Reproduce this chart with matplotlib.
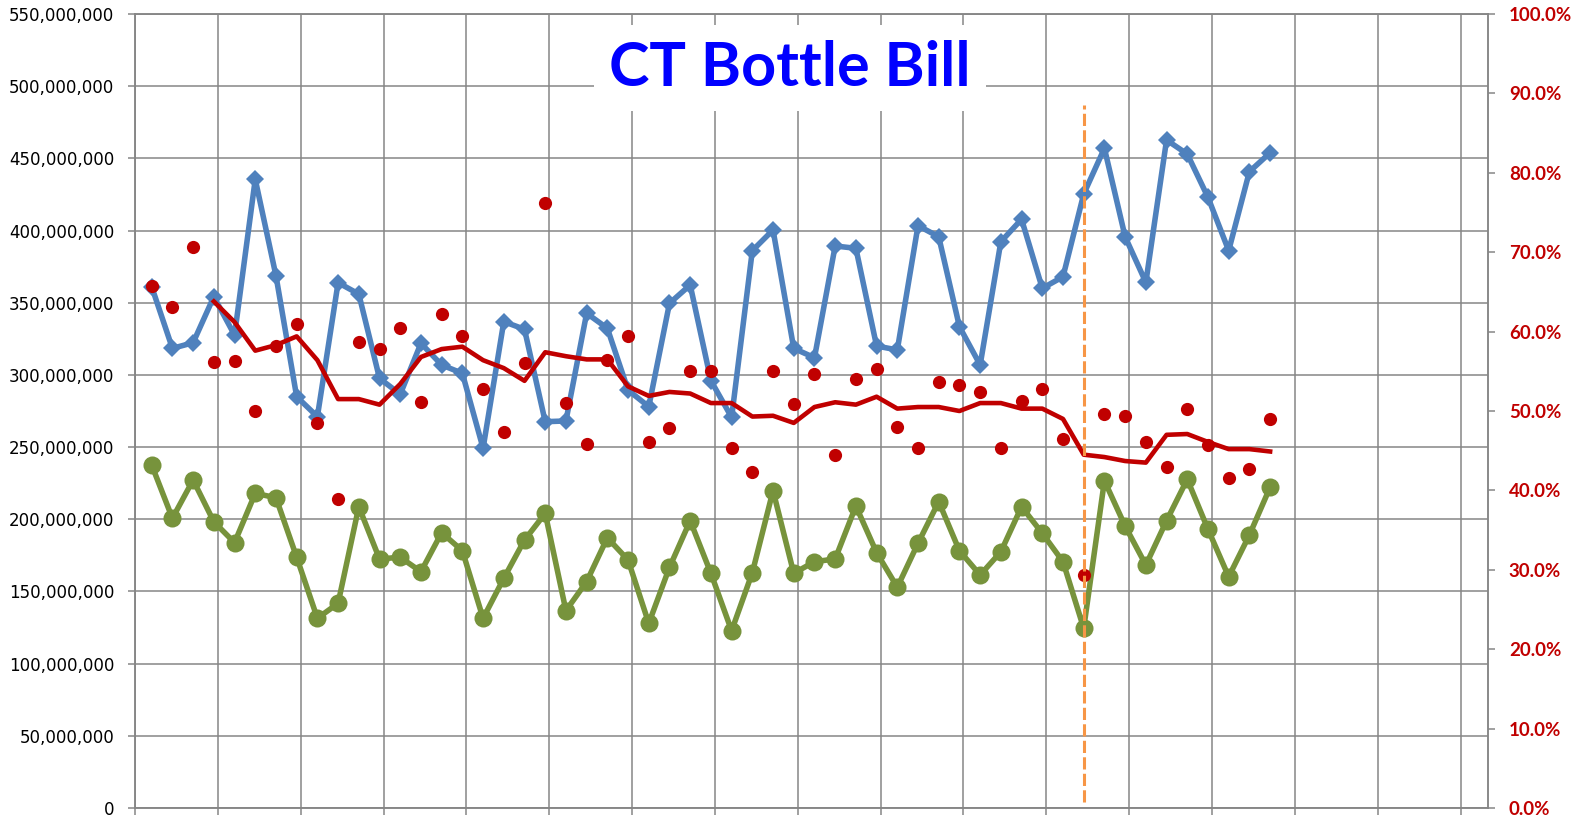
import matplotlib
matplotlib.use("Agg")
import matplotlib.pyplot as plt
import numpy as np
from matplotlib.ticker import FuncFormatter, PercentFormatter

# quarterly periods (index positions on the x axis)
periods = np.arange(55)

# blue series (left axis)
blue = [361.1, 318.4, 322.3, 354.2, 327.6, 435.5, 368.7, 284.9, 271.1, 363.9,
        356.0, 297.6, 286.6, 321.9, 306.9, 301.1, 249.2, 336.9, 331.6, 267.6,
        268.1, 342.7, 332.3, 289.5, 278.0, 349.6, 362.3, 296.0, 270.6, 386.1,
        400.4, 318.4, 311.9, 389.3, 387.7, 320.0, 317.3, 403.4, 395.7, 333.4,
        306.9, 392.3, 407.8, 360.0, 368.0, 425.3, 457.0, 395.7, 364.1, 462.7,
        453.0, 423.0, 386.1, 440.8, 453.9]

# green series (left axis)
green = [237.6, 200.7, 227.2, 198.3, 183.8, 218.0, 214.9, 173.7, 131.4, 141.8,
         208.7, 172.5, 173.7, 163.7, 190.7, 178.2, 131.4, 159.1, 185.6, 204.1,
         136.7, 156.8, 187.2, 171.8, 127.9, 166.7, 199.0, 162.6, 122.8, 163.0,
         219.8, 162.6, 170.6, 172.5, 209.2, 176.9, 152.9, 183.4, 212.2, 178.2,
         161.4, 177.5, 208.7, 190.3, 170.6, 124.5, 226.7, 195.3, 168.3, 199.0,
         227.7, 193.1, 160.2, 189.1, 222.2]

# redemption rate dots (right axis, %)
rate = [65.7, 63.1, 70.6, 56.2, 56.3, 50.0, 58.2, 61.0, 48.5, 38.9,
        58.7, 57.8, 60.5, 51.1, 62.2, 59.4, 52.8, 47.3, 56.1, 76.2,
        51.0, 45.8, 56.4, 59.4, 46.1, 47.8, 55.0, 55.0, 45.3, 42.3,
        55.0, 50.9, 54.6, 44.4, 54.0, 55.3, 48.0, 45.4, 53.6, 53.3,
        52.4, 45.4, 51.2, 52.8, 46.5, 29.3, 49.6, 49.4, 46.1, 42.9,
        50.3, 45.7, 41.5, 42.7, 49.0]

# 4-period moving average line (right axis, %), starts at the 4th period
rate_avg = [63.8, 61.2, 57.6, 58.3, 59.4, 56.4, 51.5, 51.5, 50.8, 53.4,
            56.8, 57.8, 58.1, 56.4, 55.4, 53.8, 57.4, 56.9, 56.5, 56.5,
            53.1, 51.9, 52.4, 52.2, 51.0, 51.0, 49.3, 49.4, 48.5, 50.5,
            51.1, 50.8, 51.8, 50.3, 50.5, 50.5, 50.0, 51.0, 51.0, 50.3,
            50.3, 49.0, 44.5, 44.2, 43.7, 43.5, 47.0, 47.1, 46.1, 45.2,
            45.2, 44.9]

marker_period = 45

grid_c = "#868686"

fig = plt.figure(figsize=(15.75, 8.17), dpi=100)
ax = fig.add_axes([135 / 1575, 1 - 808 / 817, (1488 - 135) / 1575, (808 - 14) / 817])
ax2 = ax.twinx()

x0 = -0.806
ax.set_xlim(x0, 64.52)
ax.set_ylim(0, 550e6)
ax2.set_ylim(0, 1.0)

ax.set_yticks(np.arange(0, 550e6 + 1, 50e6))
ax.yaxis.set_major_formatter(FuncFormatter(lambda v, p: f"{v:,.0f}"))
ax.set_xticks(x0 + 4 * np.arange(17))
ax.set_xticklabels([])
ax.grid(True, color=grid_c, linewidth=1.1)
ax.set_axisbelow(True)

ax.tick_params(axis="y", length=5, width=1.1, color=grid_c, pad=10,
               labelsize=12, labelcolor="black")
ax.tick_params(axis="x", length=5, width=1.1, color=grid_c)

ax2.set_yticks(np.arange(0, 1.01, 0.1))
ax2.yaxis.set_major_formatter(PercentFormatter(1.0, decimals=1))
ax2.tick_params(axis="y", length=5, width=1.1, color=grid_c, pad=10)
for lab in ax2.get_yticklabels():
    lab.set_fontfamily("Lato")
    lab.set_fontweight("bold")
    lab.set_fontsize(13.5)
    lab.set_color("#C00000")

for a in (ax, ax2):
    for s in a.spines.values():
        s.set_color(grid_c)
        s.set_linewidth(1.1)

vals = lambda lst: np.array(lst) * 1e6
ax.plot(periods, vals(blue), color="#4F81BD", lw=4, marker="D", ms=9,
        mew=0, zorder=3)
ax.plot(periods, vals(green), color="#77933C", lw=4, marker="o", ms=13,
        mew=0, zorder=3)

ax2.plot(periods, np.array(rate) / 100, linestyle="none", marker="o", ms=9.5,
         color="#C00000", mew=0, zorder=3)
ax2.plot(periods[3:], np.array(rate_avg) / 100, color="#C00000", lw=3.3, zorder=4)
ax2.plot([marker_period, marker_period], [0.007, 0.885], color="#F79646", lw=2.2,
         linestyle=(0, (4, 1.4)), zorder=5)

fig.text(790 / 1575, 1 - 68 / 817, "CT Bottle Bill", ha="center", va="center",
         fontsize=44, fontweight="bold", family="Lato", color="#0000FF",
         bbox=dict(boxstyle="square,pad=0.25", facecolor="white", edgecolor="none"),
         zorder=10)

fig.savefig("out.png", dpi=100)
